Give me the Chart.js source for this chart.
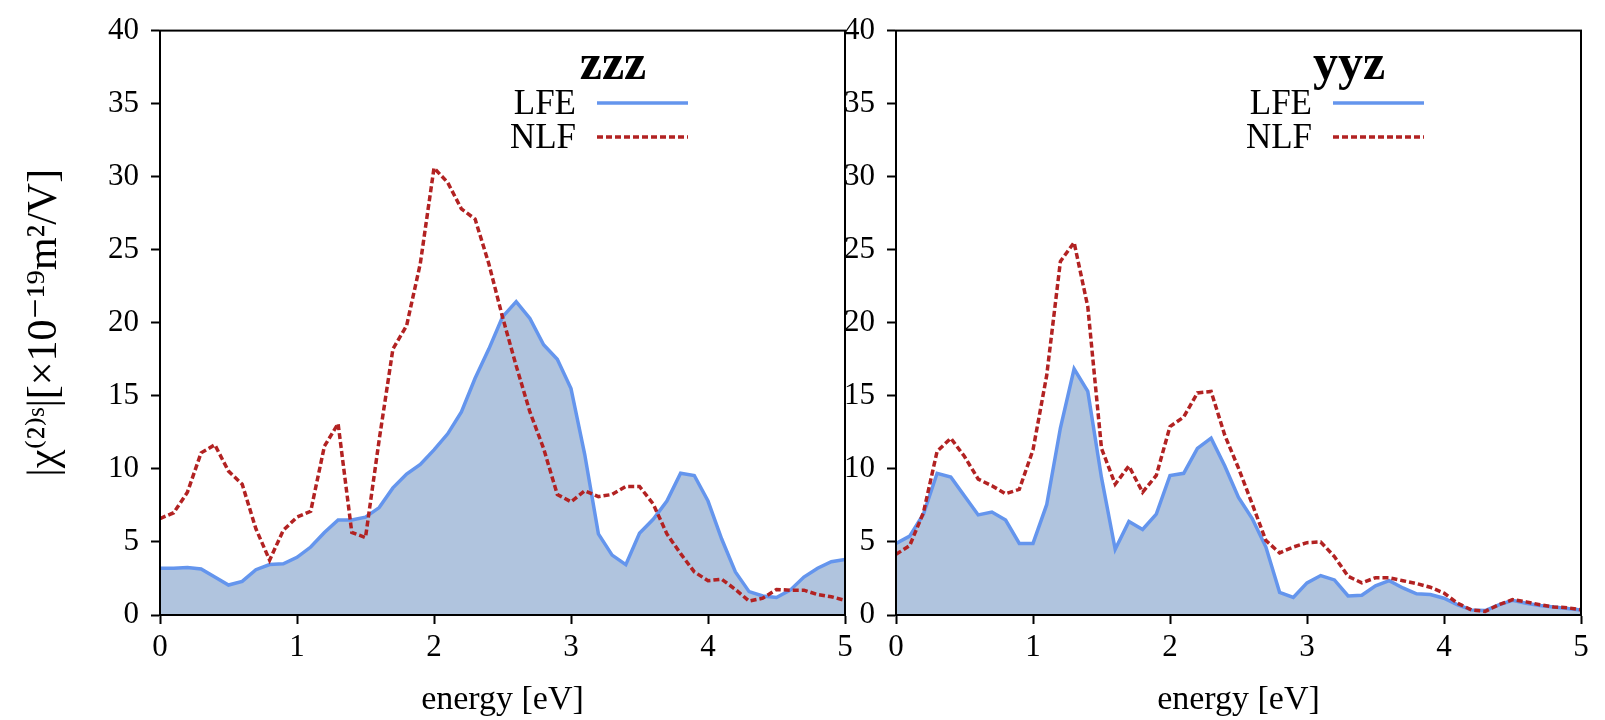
<!DOCTYPE html>
<html>
<head>
<meta charset="utf-8">
<script src="https://cdn.jsdelivr.net/npm/chart.js@4"></script>
<style>
  body { margin: 0; background: #fff; width: 1605px; height: 720px; overflow: hidden; }
  .box { position: absolute; top: 0; height: 720px; }
  #left { left: 0; width: 870px; }
  #right { left: 800px; width: 805px; }
</style>
</head>
<body>
<div class="box" id="left"><canvas id="zzzChart"></canvas></div>
<div class="box" id="right"><canvas id="yyzChart"></canvas></div>
<script>
// energie-as (eV)
var energy = [0, 0.1, 0.2, 0.3, 0.4, 0.5, 0.6, 0.7, 0.8, 0.9, 1.0,
  1.1, 1.2, 1.3, 1.4, 1.5, 1.6, 1.7, 1.8, 1.9, 2.0,
  2.1, 2.2, 2.3, 2.4, 2.5, 2.6, 2.7, 2.8, 2.9, 3.0,
  3.1, 3.2, 3.3, 3.4, 3.5, 3.6, 3.7, 3.8, 3.9, 4.0,
  4.1, 4.2, 4.3, 4.4, 4.5, 4.6, 4.7, 4.8, 4.9, 5.0];

// zzz
var zzzLFE = [3.2, 3.2, 3.25, 3.15, 2.6, 2.05, 2.3, 3.1, 3.45, 3.5, 3.95,
  4.65, 5.65, 6.5, 6.5, 6.7, 7.35, 8.7, 9.65, 10.3, 11.3,
  12.4, 13.9, 16.2, 18.2, 20.4, 21.45, 20.3, 18.5, 17.5, 15.5,
  11.0, 5.55, 4.1, 3.45, 5.6, 6.55, 7.8, 9.7, 9.55, 7.8,
  5.2, 2.95, 1.6, 1.3, 1.2, 1.7, 2.6, 3.2, 3.65, 3.8];
var zzzNLF = [6.6, 7.0, 8.4, 11.1, 11.65, 9.85, 8.95, 5.9, 3.75, 5.8, 6.7,
  7.1, 11.55, 13.1, 5.65, 5.3, 12.0, 18.2, 19.8, 24.05, 30.6,
  29.6, 27.8, 27.1, 24.05, 20.4, 17.05, 13.9, 11.4, 8.25, 7.75,
  8.5, 8.1, 8.25, 8.8, 8.8, 7.6, 5.55, 4.2, 2.95, 2.35,
  2.45, 1.75, 0.95, 1.15, 1.75, 1.7, 1.7, 1.4, 1.25, 1.0];

// yyz
var yyzLFE = [4.9, 5.4, 6.9, 9.7, 9.45, 8.15, 6.85, 7.05, 6.5, 4.9, 4.9,
  7.55, 12.8, 16.85, 15.3, 9.4, 4.5, 6.4, 5.85, 6.9, 9.55,
  9.7, 11.4, 12.1, 10.2, 8.05, 6.6, 4.65, 1.55, 1.2, 2.2,
  2.7, 2.4, 1.3, 1.35, 2.0, 2.35, 1.85, 1.45, 1.4, 1.15,
  0.7, 0.35, 0.3, 0.7, 1.0, 0.8, 0.65, 0.55, 0.45, 0.35];
var yyzNLF = [4.15, 4.75, 7.0, 11.2, 12.1, 10.85, 9.3, 8.85, 8.3, 8.6, 11.3,
  16.4, 24.2, 25.5, 21.1, 11.4, 8.95, 10.2, 8.4, 9.55, 12.9,
  13.55, 15.2, 15.3, 12.3, 10.05, 7.6, 5.1, 4.25, 4.65, 4.95,
  5.0, 4.0, 2.65, 2.2, 2.55, 2.55, 2.35, 2.15, 1.9, 1.5,
  0.8, 0.35, 0.25, 0.7, 1.05, 0.9, 0.7, 0.55, 0.5, 0.35];

var xTicks = [0, 1, 2, 3, 4, 5];
var yTicks = [0, 5, 10, 15, 20, 25, 30, 35, 40];
var seriesNames = ['LFE', 'NLF'];

Chart.defaults.font.family = '"Liberation Serif", "DejaVu Serif", serif';
Chart.defaults.color = '#000';

function points(values) {
    return energy.map(function (e, i) { return { x: e, y: values[i] }; });
}

// kader + legenda in de grafiek
var frameAndLegend = {
    id: 'frameAndLegend',
    afterDatasetsDraw: function (chart, args, opts) {
        var ctx = chart.ctx;
        var a = chart.chartArea;
        ctx.save();
        ctx.strokeStyle = '#000';
        ctx.lineWidth = 2;
        ctx.strokeRect(a.left, a.top, a.right - a.left, a.bottom - a.top);

        var r = a.right;
        ctx.fillStyle = '#000';
        ctx.font = 'bold 50px "Liberation Serif"';
        ctx.textAlign = 'center';
        ctx.textBaseline = 'alphabetic';
        ctx.fillText(opts.title, r - 232, 79);

        var rows = [103, 137];
        ctx.font = '35px "Liberation Serif"';
        ctx.textAlign = 'right';
        // LFE eerst, dan NLF
        [0, 1].forEach(function (k, n) {
            var ds = chart.data.datasets.find(function (d) { return d.label === seriesNames[k]; });
            ctx.fillStyle = '#000';
            ctx.fillText(ds.label, r - 269, rows[n] + 11);
            ctx.beginPath();
            ctx.strokeStyle = ds.borderColor;
            ctx.lineWidth = 3.5;
            ctx.setLineDash(ds.borderDash || []);
            ctx.moveTo(r - 248, rows[n]);
            ctx.lineTo(r - 157, rows[n]);
            ctx.stroke();
            ctx.setLineDash([]);
        });
        ctx.restore();
    }
};

function makeChart(id, title, lfe, nlf, yWidth, pad, yTitle) {
    return new Chart(document.getElementById(id), {
        type: 'line',
        data: {
            datasets: [{
                label: seriesNames[0],
                data: points(lfe),
                borderColor: '#6495ED',
                backgroundColor: '#B0C4DE',
                borderWidth: 3.5,
                fill: 'origin',
                pointRadius: 0,
                tension: 0,
                order: 2
            }, {
                label: seriesNames[1],
                data: points(nlf),
                borderColor: '#B22222',
                borderDash: [6, 3],
                borderWidth: 3.5,
                fill: false,
                pointRadius: 0,
                tension: 0,
                order: 1
            }]
        },
        options: {
            responsive: true,
            maintainAspectRatio: false,
            animation: false,
            layout: { padding: pad },
            plugins: {
                legend: { display: false },
                tooltip: { enabled: false },
                frameAndLegend: { title: title }
            },
            scales: {
                x: {
                    type: 'linear',
                    min: 0,
                    max: 5,
                    afterBuildTicks: function (scale) {
                        scale.ticks = xTicks.map(function (v) { return { value: v }; });
                    },
                    ticks: { font: { size: 31 }, padding: 5, maxRotation: 0 },
                    grid: { drawOnChartArea: false, tickLength: 9, tickColor: '#000', tickWidth: 2 },
                    border: { display: true, color: '#000', width: 2 },
                    title: { display: true, text: 'energy [eV]', font: { size: 34 }, padding: { bottom: 0 } },
                    afterFit: function (scale) { scale.height = 105; }
                },
                y: {
                    min: 0,
                    max: 40,
                    afterBuildTicks: function (scale) {
                        scale.ticks = yTicks.map(function (v) { return { value: v }; });
                    },
                    ticks: { font: { size: 31 }, padding: 12 },
                    grid: { drawOnChartArea: false, tickLength: 9, tickColor: '#000', tickWidth: 2 },
                    border: { display: true, color: '#000', width: 2 },
                    title: { display: !!yTitle, text: yTitle || '', font: { size: 42 }, padding: { top: 20 } },
                    afterFit: function (scale) { scale.width = yWidth; }
                }
            }
        },
        plugins: [frameAndLegend]
    });
}

var zzzChart = makeChart('zzzChart', 'zzz', zzzLFE, zzzNLF, 160,
    { left: 0, right: 25, top: 24, bottom: 0 }, '|χ⁽²⁾ˢ|[×10⁻¹⁹m²/V]');
var yyzChart = makeChart('yyzChart', 'yyz', yyzLFE, yyzNLF, 96,
    { left: 0, right: 24, top: 24, bottom: 0 }, null);
</script>
</body>
</html>
